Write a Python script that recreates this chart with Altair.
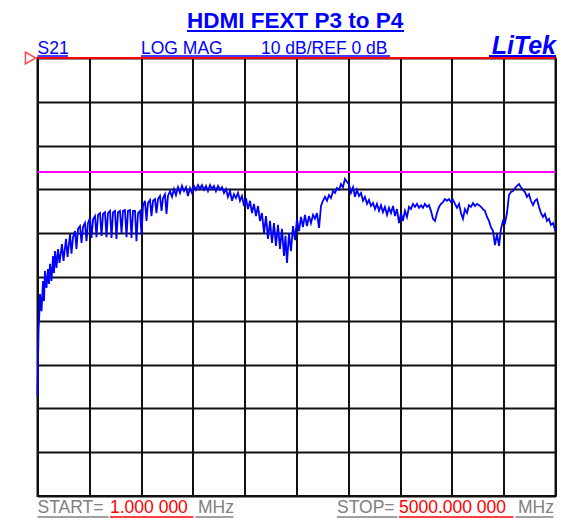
import altair as alt
import pandas as pd

# Frequency sweep (MHz) and S21 magnitude (dB)
freq_mhz = [1, 6, 11, 20, 25, 40, 54, 64, 73, 88, 102, 112, 122, 136, 151, 160, 170, 184, 199, 213,
            237, 252, 276, 291, 315, 329, 344, 363, 377, 392, 411, 426, 440, 459, 474, 488, 508, 522, 537, 556,
            570, 585, 604, 619, 633, 652, 667, 681, 701, 715, 730, 749, 763, 778, 797, 812, 826, 845, 860, 874,
            894, 908, 923, 942, 956, 971, 990, 1005, 1019, 1038, 1053, 1067, 1087, 1101, 1116, 1135, 1149, 1164, 1183, 1198,
            1212, 1231, 1246, 1260, 1280, 1299, 1318, 1337, 1357, 1376, 1395, 1415, 1434, 1453, 1473, 1492, 1511, 1530, 1550, 1569,
            1588, 1608, 1627, 1646, 1666, 1685, 1704, 1723, 1743, 1762, 1781, 1801, 1820, 1839, 1859, 1878, 1897, 1916, 1936, 1955,
            1974, 1994, 2013, 2032, 2052, 2071, 2090, 2109, 2129, 2148, 2167, 2187, 2206, 2225, 2245, 2264, 2283, 2302, 2322, 2341,
            2360, 2380, 2394, 2409, 2428, 2447, 2467, 2486, 2505, 2525, 2544, 2563, 2582, 2602, 2621, 2640, 2660, 2679, 2698, 2718,
            2737, 2756, 2775, 2795, 2814, 2833, 2853, 2872, 2891, 2911, 2930, 2949, 2968, 2988, 3007, 3026, 3046, 3065, 3084, 3104,
            3123, 3142, 3161, 3181, 3200, 3219, 3239, 3258, 3277, 3297, 3316, 3335, 3354, 3374, 3393, 3412, 3432, 3451, 3470, 3490,
            3509, 3528, 3547, 3567, 3586, 3605, 3625, 3644, 3663, 3683, 3702, 3721, 3740, 3760, 3779, 3798, 3818, 3837, 3856, 3876,
            3895, 3914, 3933, 3953, 3972, 3991, 4011, 4030, 4049, 4069, 4088, 4107, 4126, 4146, 4165, 4184, 4204, 4223, 4242, 4262,
            4281, 4300, 4319, 4339, 4358, 4377, 4397, 4416, 4435, 4455, 4474, 4493, 4512, 4532, 4551, 4570, 4590, 4609, 4628, 4648,
            4667, 4686, 4705, 4725, 4744, 4763, 4783, 4802, 4821, 4841, 4860, 4879, 4898, 4918, 4937, 4956, 4976, 5000]

s21_db = [-77.2, -69.2, -62.3, -57.8, -53.9, -57.8, -50.9, -55.5, -48.6, -52.5, -48.2, -51.6, -47.0, -50.9, -45.2, -49.1, -44.1, -47.9, -43.6, -46.8,
          -42.5, -46.3, -41.3, -45.4, -40.2, -44.7, -40.9, -39.5, -43.6, -39.0, -38.4, -42.2, -38.6, -37.7, -41.8, -37.7, -36.5, -41.1, -36.8, -36.1,
          -40.9, -35.8, -35.4, -40.6, -35.6, -35.2, -40.9, -35.4, -34.9, -41.1, -35.2, -34.9, -41.3, -35.2, -34.9, -40.0, -34.9, -34.7, -40.9, -34.9,
          -34.7, -41.1, -34.9, -34.9, -41.8, -35.4, -34.9, -40.4, -33.8, -32.6, -37.2, -33.1, -32.4, -36.1, -32.6, -32.2, -35.4, -32.2, -31.5, -34.9,
          -32.0, -31.1, -35.6, -31.5, -30.4, -31.7, -29.9, -31.3, -29.5, -30.8, -29.2, -30.4, -29.5, -31.5, -29.7, -30.8, -29.2, -30.1, -29.0, -29.9,
          -29.0, -30.1, -29.2, -30.4, -29.0, -29.9, -29.2, -30.4, -29.2, -30.1, -29.5, -30.8, -29.9, -31.7, -30.4, -32.6, -31.1, -32.0, -30.8, -32.6,
          -31.5, -33.8, -32.0, -34.5, -32.6, -35.4, -33.3, -36.1, -33.8, -37.2, -35.4, -40.0, -36.1, -41.3, -37.2, -42.2, -37.7, -42.9, -38.1, -43.6,
          -39.0, -45.2, -40.6, -46.8, -40.0, -44.1, -38.4, -41.6, -36.8, -39.5, -36.3, -38.6, -35.8, -38.4, -36.1, -37.7, -35.8, -36.7, -35.4, -38.8,
          -33.8, -32.6, -31.7, -32.6, -31.3, -32.0, -30.4, -30.8, -29.7, -30.1, -28.8, -29.5, -27.6, -28.3, -28.8, -30.8, -29.5, -31.7, -30.1, -31.5,
          -30.8, -32.6, -31.7, -33.3, -32.4, -33.8, -33.1, -34.5, -33.3, -34.9, -33.6, -35.2, -34.0, -35.8, -34.2, -35.4, -33.8, -36.1, -34.5, -37.7,
          -35.4, -37.2, -34.9, -36.3, -34.0, -34.5, -33.3, -34.0, -33.3, -34.2, -33.6, -34.2, -33.3, -34.0, -33.6, -34.9, -36.7, -37.2, -35.4, -34.0,
          -33.3, -32.9, -32.2, -32.6, -32.2, -32.9, -32.4, -33.3, -34.2, -33.3, -35.4, -36.7, -34.5, -35.4, -33.6, -34.0, -33.1, -33.8, -33.3, -33.6,
          -34.0, -34.5, -34.9, -36.3, -37.2, -38.6, -39.5, -42.7, -40.2, -42.9, -39.0, -37.2, -37.7, -35.4, -31.3, -30.6, -30.4, -29.7, -29.2, -28.8,
          -29.5, -30.1, -30.6, -31.7, -31.1, -32.6, -33.6, -32.6, -32.2, -34.0, -35.4, -36.3, -35.6, -37.2, -36.7, -38.1, -37.7, -39.5]

assert len(freq_mhz) == len(s21_db), (len(freq_mhz), len(s21_db))

ref_db = [0]          # reference line (REF 0 dB)
limit_db = [-26]      # magenta limit line
x_grid = [1 + i * 499.9 for i in range(11)]   # 10 divisions START..STOP
y_grid = list(range(-100, 1, 10))             # 10 dB / div

W, H = 518, 438
FONT = "Liberation Sans, Arial, sans-serif"
BLUE = "#0000ff"
GRAY = "#808080"
RED = "#ff0000"

df = pd.DataFrame({"f": freq_mhz, "db": s21_db})
x_scale = alt.Scale(domain=[1, 5000], nice=False, zero=False)
y_scale = alt.Scale(domain=[-100, 0], nice=False, zero=False)

x_axis = alt.Axis(values=x_grid, grid=True, labels=False, ticks=False, domain=False, title=None,
                  gridColor="#111111", gridWidth=2, gridOpacity=1)
y_axis = alt.Axis(values=y_grid, grid=True, labels=False, ticks=False, domain=False, title=None,
                  gridColor="#111111", gridWidth=2, gridOpacity=1)

trace = alt.Chart(df).mark_line(color=BLUE, strokeWidth=1.8).encode(
    x=alt.X("f:Q", scale=x_scale, axis=x_axis),
    y=alt.Y("db:Q", scale=y_scale, axis=y_axis),
)

ref_line = alt.Chart(pd.DataFrame({"db": ref_db})).mark_rule(color=RED, strokeWidth=2).encode(
    y=alt.Y("db:Q", scale=y_scale))
limit_line = alt.Chart(pd.DataFrame({"db": limit_db})).mark_rule(color="#ff00ff", strokeWidth=2).encode(
    y=alt.Y("db:Q", scale=y_scale))

one = pd.DataFrame({"k": [0]})


def txt(s, x, y, size, color, align="left", bold=False, italic=False, font=FONT):
    kw = dict(text=s, align=align, baseline="alphabetic", fontSize=size, color=color, font=font)
    if bold:
        kw["fontWeight"] = "bold"
    if italic:
        kw["fontStyle"] = "italic"
    return alt.Chart(one).mark_text(**kw).encode(x=alt.value(x), y=alt.value(y))


def uline(x1, x2, y, color, w=1.5):
    return alt.Chart(one).mark_rule(color=color, strokeWidth=w).encode(
        x=alt.value(x1), x2=alt.value(x2), y=alt.value(y))


marker = alt.Chart(one).mark_point(shape="triangle-right", filled=False, color=RED, size=140,
                                    strokeWidth=1.5).encode(x=alt.value(-7), y=alt.value(0))

layers = [
    trace, limit_line, ref_line, marker,
    txt("HDMI FEXT P3 to P4", 149.5, -30, 22.5, BLUE, bold=True),
    uline(149.5, 366.5, -27, BLUE, 2),
    txt("S21", 0, -4, 17.5, BLUE),
    uline(0, 30.5, -2, BLUE),
    txt("LOG MAG", 103.5, -4, 17.5, BLUE),
    txt("10 dB/REF 0 dB", 223.5, -4, 17.5, BLUE),
    uline(103.5, 352.5, -2, BLUE),
    txt("LiTek", 518.5, -4, 25, BLUE, align="right", bold=True, italic=True),
    uline(451.5, 518.5, -2, BLUE, 2),
    txt("START=", 0, 455, 17.5, GRAY),
    txt("1.000 000", 72.5, 455, 17.5, RED),
    txt("MHz", 160.5, 455, 17.5, GRAY),
    uline(0, 71, 459, GRAY), uline(72.5, 156, 459, RED), uline(158, 196, 459, GRAY),
    txt("STOP=", 299.5, 455, 17.5, GRAY),
    txt("5000.000 000", 361.5, 455, 17.5, RED),
    txt("MHz", 480.5, 455, 17.5, GRAY),
    uline(299.5, 360, 459, GRAY), uline(361.5, 476, 459, RED), uline(478, 516, 459, GRAY),
]

chart = alt.layer(*layers).properties(
    width=W, height=H,
    autosize=alt.AutoSizeParams(type="none"),
    padding={"left": 29.5, "top": 50, "right": 12, "bottom": 22},
    background="white",
).configure_view(stroke="#111111", strokeWidth=2)

chart.save("out.html", embed_options={"renderer": "svg", "actions": False})
